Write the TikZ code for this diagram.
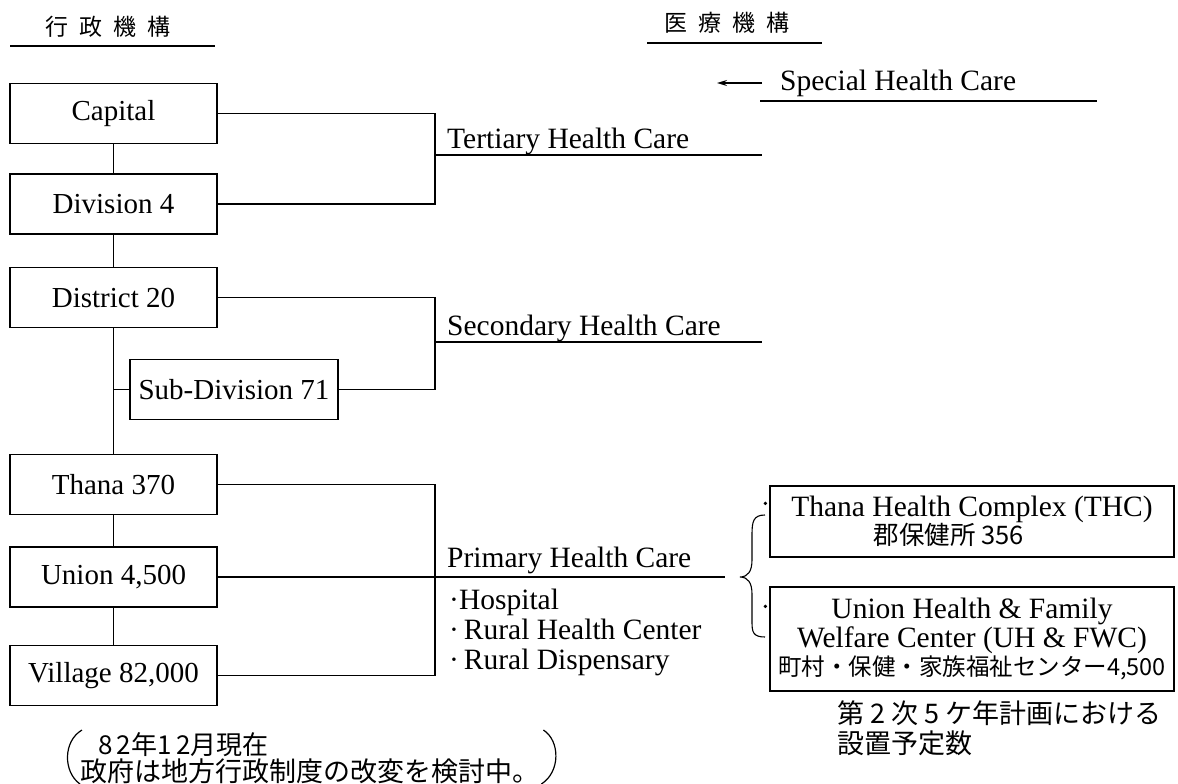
\documentclass[tikz,border=0pt]{standalone}
\usepackage{fontspec}
\setmainfont{Liberation Serif}
\newfontfamily\cjk{Noto Sans CJK JP}
\usetikzlibrary{arrows.meta}
\begin{document}
\begin{tikzpicture}[x=1pt,y=-1pt,
  adminbox/.style={draw, line width=1.3pt, minimum width=207pt, minimum height=60pt, inner sep=0pt,
    font=\fontsize{29}{30}\selectfont},
  medbox/.style={draw, line width=1.3pt, minimum width=404pt, inner sep=0pt, align=center,
    font=\fontsize{29.5}{29}\selectfont},
  lbl/.style={anchor=base west, inner sep=0pt, font=\fontsize{29.5}{30}\selectfont},
  jtext/.style={inner sep=0pt, align=left, font=\cjk\fontsize{27}{30}\selectfont},
  conn/.style={line width=1.2pt},
  ]
\useasboundingbox (0,0) rectangle (1178,784);

% headers
\node[inner sep=0pt, font=\cjk\fontsize{23}{23}\selectfont] (hdrA) at (108,27) {行\kern11pt 政\kern11pt 機\kern11pt 構};
\node[inner sep=0pt, font=\cjk\fontsize{23}{23}\selectfont] (hdrB) at (727,23) {医\kern11pt 療\kern11pt 機\kern11pt 構};
\coordinate (hA1) at (10,46);  \coordinate (hA2) at (215,46);
\coordinate (hB1) at (647,43); \coordinate (hB2) at (822,43);
\draw[conn] (hA1) -- (hA2);
\draw[conn] (hB1) -- (hB2);

% special health care
\node[lbl] (special) at (780,91) {Special Health Care};
\coordinate (sp1) at (762,83); \coordinate (sp0) at (717,83);
\draw[conn, -{Stealth[length=10pt,width=6pt]}] (sp1) -- (sp0);
\coordinate (su1) at (760,101); \coordinate (su2) at (1097,101);
\draw[conn] (su1) -- (su2);

% administrative boxes
\node[adminbox] (capital)  at (113.5,113.5) {Capital};
\node[adminbox] (division) at (113.5,204)   {Division 4};
\node[adminbox] (district) at (113.5,297.5) {District 20};
\node[adminbox, minimum width=208pt] (subdiv) at (234,389.5) {Sub-Division 71};
\node[adminbox] (thana)    at (113.5,484.5) {Thana 370};
\node[adminbox] (union)    at (113.5,577)   {Union 4,500};
\node[adminbox] (village)  at (113.5,675.5) {Village 82,000};

% spine
\draw[conn] (capital.south) -- (division.north);
\draw[conn] (division.south) -- (district.north);
\draw[conn] (district.south) -- (thana.north);
\draw[conn] (thana.south) -- (union.north);
\draw[conn] (union.south) -- (village.north);
\draw[conn] (subdiv.west) -- (subdiv.west -| district.south);

% bracket x
\coordinate (bx) at (435,0);

% tertiary
\draw[conn] (capital.east) -- (capital.east -| bx) -- (division.east -| bx) -- (division.east);
\coordinate (tend) at (762,155);
\draw[conn] (tend -| bx) -- (tend);
\node[lbl] (tert) at (447,148) {Tertiary Health Care};

% secondary
\draw[conn] (district.east) -- (district.east -| bx) -- (subdiv.east -| bx) -- (subdiv.east);
\coordinate (send) at (762,342);
\draw[conn] (send -| bx) -- (send);
\node[lbl] (sec) at (447,335) {Secondary Health Care};

% primary
\draw[conn] (thana.east) -- (thana.east -| bx) -- (village.east -| bx) -- (village.east);
\coordinate (pend) at (725,577);
\draw[conn] (union.east) -- (pend);
\node[lbl] (prim) at (447,567) {Primary Health Care};
\node[lbl] (b1) at (449,609) {·Hospital};
\node[lbl] (b2) at (449,639) {·\,Rural Health Center};
\node[lbl] (b3) at (449,669) {·\,Rural Dispensary};

% brace
\draw[line width=1.1pt] (765,515) .. controls (753,515) and (752,522) .. (752,535) -- (752,560)
  .. controls (752,571) and (748,577) .. (740,577)
  .. controls (748,577) and (752,583) .. (752,594) -- (752,622)
  .. controls (752,632) and (753,637) .. (765,637);

% medical boxes
\node[medbox, minimum height=71pt] (thc) at (972,521.5)
  {Thana Health Complex (THC)\\[-1pt]{\cjk\fontsize{25.5}{25}\selectfont 郡保健所 356}\hspace*{46pt}};
\node[medbox, minimum height=104pt] (uhfwc) at (972,639)
  {Union Health \& Family\\Welfare Center (UH \& FWC)\\[-1pt]{\cjk\fontsize{23.5}{24}\selectfont 町村・保健・家族福祉センター4,500}};
\fill ([xshift=-4pt,yshift=-18pt]thc.north west) circle (1.8pt);
\fill ([xshift=-4pt,yshift=-20pt]uhfwc.north west) circle (1.8pt);

% notes
\node[jtext, anchor=north west] (plan) at (837,700) {第 2 次 5 ケ年計画における\\設置予定数};
\node[jtext, anchor=west, font=\cjk\fontsize{26}{26}\selectfont] (note1) at (98,745) {8\,2年1\,2月現在};
\node[jtext, anchor=west, font=\cjk\fontsize{27}{27}\selectfont] (note2) at (80,771) {政府は地方行政制度の改変を検討中。};
\draw[line width=1.2pt] (82,730) .. controls (63,741) and (63,772) .. (80,784);
\draw[line width=1.2pt] ([xshift=4pt]note2.east |- 0,730) .. controls ([xshift=21pt]note2.east |- 0,741) and ([xshift=21pt]note2.east |- 0,772) .. ([xshift=2pt]note2.east |- 0,784);
\end{tikzpicture}
\end{document}
